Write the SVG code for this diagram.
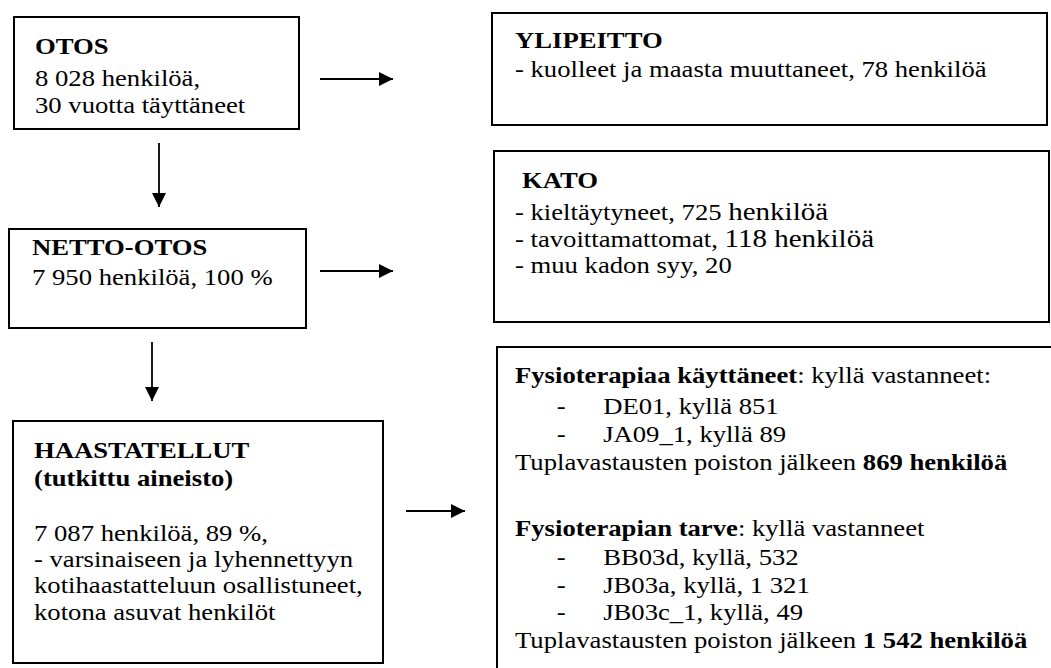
<svg xmlns="http://www.w3.org/2000/svg" width="1051" height="668" viewBox="0 0 1051 668">
<style>
  .box { fill: #fff; stroke: #000; stroke-width: 2; }
  text { font-family: 'Liberation Serif', 'Times New Roman', serif; font-size: 23px; fill: #000; }
  .b { font-weight: bold; }
  .big { font-size: 25px; }
  .conn { stroke: #000; stroke-width: 1.8; fill: none; marker-end: url(#arrow); }
</style>
<defs>
  <marker id="arrow" markerUnits="userSpaceOnUse" markerWidth="15" markerHeight="15" refX="14" refY="7" orient="auto">
    <path d="M0,0 L14,7 L0,14 z" fill="#000"/>
  </marker>
</defs>
<rect width="1051" height="668" fill="#fff"/>

<g id="otos">
  <rect class="box" x="14" y="17" width="285" height="112"/>
  <g transform="translate(35,0) scale(1.16,1)">
    <text class="b" x="0" y="54">OTOS</text>
    <text x="0" y="86">8 028 henkilöä,</text>
    <text x="0" y="113">30 vuotta täyttäneet</text>
  </g>
</g>

<g id="ylipeitto">
  <rect class="box" x="492" y="13" width="555" height="112"/>
  <g transform="translate(515,0) scale(1.16,1)">
    <text class="b" x="0" y="48">YLIPEITTO</text>
    <text x="0" y="77">- kuolleet ja maasta muuttaneet, 78 henkilöä</text>
  </g>
</g>

<g id="netto-otos">
  <rect class="box" x="9" y="229" width="297" height="99"/>
  <g transform="translate(32,0) scale(1.16,1)">
    <text class="b" x="0" y="255">NETTO-OTOS</text>
    <text x="0" y="285">7 950 henkilöä, 100 %</text>
  </g>
</g>

<g id="kato">
  <rect class="box" x="494" y="151" width="555" height="171"/>
  <g transform="translate(515,0) scale(1.16,1)">
    <text class="b" x="6" y="188">KATO</text>
    <text x="0" y="220">- kieltäytyneet, 725 <tspan class="big">henkilöä</tspan></text>
    <text x="0" y="247">- tavoittamattomat, <tspan class="big">118 henkilöä</tspan></text>
    <text x="0" y="273">- muu kadon syy, 20</text>
  </g>
</g>

<g id="haastatellut">
  <rect class="box" x="13" y="421" width="370" height="242"/>
  <g transform="translate(34,0) scale(1.16,1)">
    <text class="b" x="0" y="458">HAASTATELLUT</text>
    <text class="b" x="0" y="486">(tutkittu aineisto)</text>
    <text x="0" y="541">7 087 henkilöä, 89 %,</text>
    <text x="0" y="567">- varsinaiseen ja lyhennettyyn</text>
    <text x="0" y="593">kotihaastatteluun osallistuneet,</text>
    <text x="0" y="620">kotona asuvat henkilöt</text>
  </g>
</g>

<g id="fysioterapia">
  <rect class="box" x="497" y="347" width="600" height="400"/>
  <g transform="translate(515,0) scale(1.16,1)">
    <text x="0" y="383"><tspan class="b">Fysioterapiaa käyttäneet</tspan>: kyllä vastanneet:</text>
    <text x="36" y="414">-</text>
    <text x="76" y="414">DE01, kyllä 851</text>
    <text x="36" y="442">-</text>
    <text x="76" y="442">JA09_1, kyllä 89</text>
    <text x="0" y="470">Tuplavastausten poiston jälkeen <tspan class="b">869 henkilöä</tspan></text>
    <text x="0" y="536"><tspan class="b">Fysioterapian tarve</tspan>: kyllä vastanneet</text>
    <text x="36" y="565">-</text>
    <text x="76" y="565">BB03d, kyllä, 532</text>
    <text x="36" y="593">-</text>
    <text x="76" y="593">JB03a, kyllä, 1 321</text>
    <text x="36" y="620">-</text>
    <text x="76" y="620">JB03c_1, kyllä, 49</text>
    <text x="0" y="648">Tuplavastausten poiston jälkeen <tspan class="b">1 542 henkilöä</tspan></text>
  </g>
</g>

<g id="connectors">
  <line class="conn" x1="320" y1="79" x2="393" y2="79"/>
  <line class="conn" x1="159" y1="143" x2="159" y2="207"/>
  <line class="conn" x1="320" y1="271" x2="393" y2="271"/>
  <line class="conn" x1="152" y1="342" x2="152" y2="401"/>
  <line class="conn" x1="406" y1="511" x2="465" y2="511"/>
</g>
</svg>
